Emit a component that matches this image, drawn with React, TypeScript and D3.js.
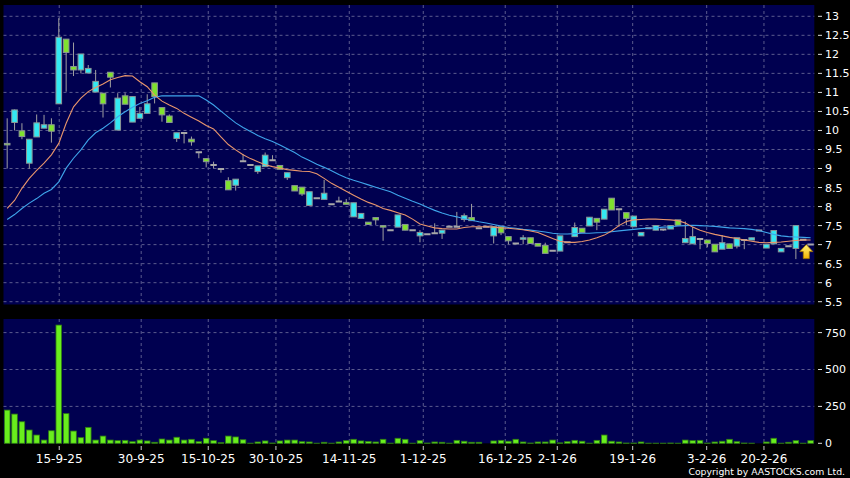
import * as d3 from "d3";

// daily candles, oldest first
const openP = [
  9.66, 10.21, 9.99, 9.14, 9.83, 10.06, 10.15, 10.7, 12.4, 11.68,
  11.59, 11.51, 11.01, 10.98, 11.53, 10.01, 10.91, 10.22, 10.32, 10.45,
  11.25, 10.6, 10.38, 9.79, 9.93, 9.77, 9.43, 9.26, 9.09, 8.99,
  8.68, 8.56, 9.19, 9.09, 8.92, 9.05, 9.22, 9.08, 8.76, 8.55,
  8.51, 8.03, 8.22, 8.19, 8.06, 8.13, 8.11, 7.73, 7.69, 7.59,
  7.71, 7.5, 7.38, 7.46, 7.53, 7.38, 7.23, 7.27, 7.3, 7.3,
  7.47, 7.47, 7.66, 7.71, 7.43, 7.47, 7.23, 7.47, 7.21, 7.03,
  7.14, 7.18, 7.03, 6.98, 6.84, 6.83, 7.06, 7.21, 7.43, 7.49,
  7.69, 7.67, 8.22, 7.93, 7.84, 7.47, 7.23, 7.43, 7.38, 7.4,
  7.41, 7.65, 7.05, 7.02, 7.15, 7.12, 7.01, 6.88, 7.02, 6.96,
  7.12, 7.12, 7.37, 6.91, 7.02, 6.81, 6.96, 6.9, 7.13, 7.0,
];
const highP = [
  10.32, 10.55, 10.19, 9.77, 10.42, 10.41, 10.32, 12.95, 12.4, 12.31,
  12.01, 11.72, 11.59, 10.98, 11.53, 10.98, 10.98, 10.89, 10.62, 10.95,
  11.25, 10.6, 10.42, 9.94, 9.93, 9.84, 9.43, 9.26, 9.18, 8.99,
  8.77, 8.72, 9.38, 9.09, 9.07, 9.42, 9.35, 9.08, 8.89, 8.55,
  8.51, 8.39, 8.22, 8.7, 8.06, 8.26, 8.2, 8.1, 7.82, 7.59,
  7.71, 7.5, 7.38, 7.78, 7.53, 7.38, 7.38, 7.27, 7.56, 7.38,
  7.47, 7.86, 7.82, 8.07, 7.43, 7.47, 7.47, 7.47, 7.21, 7.03,
  7.25, 7.18, 7.03, 7.05, 6.84, 7.23, 7.06, 7.58, 7.43, 7.72,
  7.69, 7.93, 8.22, 7.93, 7.84, 7.75, 7.32, 7.43, 7.5, 7.4,
  7.5, 7.65, 7.61, 7.47, 7.15, 7.12, 7.01, 7.25, 7.02, 7.18,
  7.12, 7.18, 7.37, 7.01, 7.37, 6.9, 6.96, 7.5, 7.13, 7.0,
];
const lowP = [
  9.0, 10.0, 9.77, 9.0, 9.83, 10.06, 9.68, 10.7, 11.02, 11.43,
  11.5, 11.51, 11.01, 10.34, 11.13, 10.01, 10.69, 10.22, 10.32, 10.45,
  10.71, 10.23, 10.21, 9.7, 9.66, 9.6, 9.27, 9.03, 9.0, 8.89,
  8.44, 8.42, 9.19, 9.09, 8.86, 9.05, 9.22, 8.98, 8.7, 8.41,
  8.28, 8.03, 8.22, 8.19, 8.06, 8.13, 8.06, 7.73, 7.69, 7.53,
  7.52, 7.1, 7.38, 7.46, 7.38, 7.38, 7.06, 7.27, 7.3, 7.15,
  7.47, 7.47, 7.6, 7.63, 7.43, 7.47, 7.03, 7.25, 7.01, 7.03,
  7.01, 7.03, 6.96, 6.77, 6.84, 6.83, 7.06, 7.21, 7.32, 7.49,
  7.38, 7.67, 7.91, 7.47, 7.51, 7.47, 7.23, 7.43, 7.38, 7.36,
  7.41, 7.51, 7.05, 7.02, 6.88, 6.93, 6.81, 6.88, 6.9, 6.9,
  6.88, 7.12, 7.37, 6.91, 7.02, 6.81, 6.96, 6.62, 7.13, 7.0,
];
const closeP = [
  9.62, 10.54, 9.84, 9.77, 10.2, 10.15, 9.98, 12.45, 12.05, 11.59,
  12.01, 11.63, 11.29, 10.7, 11.4, 10.85, 10.69, 10.89, 10.45, 10.7,
  10.89, 10.41, 10.21, 9.94, 9.93, 9.7, 9.43, 9.18, 9.09, 8.99,
  8.44, 8.72, 9.19, 9.09, 9.07, 9.35, 9.22, 8.98, 8.89, 8.41,
  8.33, 8.39, 8.22, 8.35, 8.06, 8.13, 8.06, 8.1, 7.82, 7.53,
  7.65, 7.46, 7.38, 7.78, 7.38, 7.38, 7.32, 7.27, 7.3, 7.38,
  7.47, 7.47, 7.76, 7.63, 7.43, 7.47, 7.47, 7.31, 7.1, 7.03,
  7.18, 7.03, 6.96, 6.77, 6.84, 7.23, 7.06, 7.45, 7.32, 7.72,
  7.59, 7.93, 7.91, 7.93, 7.69, 7.75, 7.32, 7.43, 7.5, 7.4,
  7.5, 7.51, 7.16, 7.21, 7.15, 7.03, 6.81, 7.05, 6.9, 7.18,
  7.12, 7.18, 7.37, 7.01, 7.37, 6.9, 6.96, 7.5, 7.13, 7.0,
];
const volume = [
  225, 198, 146, 90, 56, 22, 85, 801, 201, 83,
  38, 108, 22, 49, 22, 18, 20, 11, 22, 16,
  7, 29, 22, 41, 22, 27, 11, 34, 18, 4,
  49, 43, 24, 1, 9, 16, 2, 16, 22, 22,
  11, 9, 1, 7, 1, 9, 18, 27, 16, 13,
  9, 27, 1, 34, 27, 1, 18, 2, 9, 7,
  1, 20, 14, 7, 7, 0, 16, 20, 14, 27,
  9, 2, 9, 9, 22, 3, 11, 20, 14, 1,
  20, 56, 14, 9, 2, 2, 9, 1, 1, 1,
  2, 1, 22, 18, 20, 2, 9, 14, 27, 11,
  2, 1, 0, 9, 34, 1, 7, 18, 1, 18,
];
const ma10 = [
  7.95, 8.16, 8.48, 8.74, 8.95, 9.14, 9.36, 9.66, 10.19, 10.62,
  10.85, 11.02, 11.13, 11.22, 11.33, 11.39, 11.44, 11.43, 11.28, 11.15,
  10.93, 10.77, 10.67, 10.58, 10.45, 10.35, 10.25, 10.13, 10.04, 9.83,
  9.63, 9.49, 9.36, 9.26, 9.18, 9.1, 9.05, 9.01, 8.97, 8.95,
  8.93, 8.92, 8.86, 8.74, 8.61, 8.51, 8.4, 8.3, 8.2, 8.11,
  8.04, 7.95, 7.9, 7.84, 7.78, 7.67, 7.54, 7.49, 7.44, 7.42,
  7.41, 7.41, 7.45, 7.47, 7.47, 7.47, 7.46, 7.44, 7.43, 7.41,
  7.39, 7.36, 7.32, 7.24, 7.16, 7.09, 7.06, 7.06, 7.08, 7.12,
  7.18, 7.25, 7.36, 7.5, 7.61, 7.65, 7.66, 7.67, 7.67, 7.66,
  7.65, 7.63, 7.57, 7.46, 7.38, 7.32, 7.27, 7.23, 7.19, 7.16,
  7.12, 7.09, 7.06, 7.05, 7.06, 7.07, 7.09, 7.11, 7.12, 7.12,
];
const ma20 = [
  7.66, 7.79, 7.95, 8.09, 8.21, 8.35, 8.45, 8.65, 9.01, 9.27,
  9.49, 9.75, 9.94, 10.06, 10.2, 10.36, 10.49, 10.61, 10.71, 10.78,
  10.87, 10.91, 10.91, 10.91, 10.91, 10.91, 10.91, 10.8, 10.67, 10.51,
  10.35, 10.2, 10.08, 9.97, 9.87, 9.78, 9.71, 9.62, 9.52, 9.42,
  9.3, 9.21, 9.11, 9.03, 8.94, 8.84, 8.76, 8.69, 8.63, 8.57,
  8.51, 8.45, 8.39, 8.3, 8.22, 8.14, 8.07, 7.98, 7.9, 7.83,
  7.77, 7.73, 7.68, 7.64, 7.6, 7.57, 7.53, 7.49, 7.45, 7.43,
  7.4, 7.38, 7.36, 7.33, 7.3, 7.28, 7.28, 7.29, 7.3, 7.3,
  7.31, 7.32, 7.34, 7.36, 7.38, 7.4, 7.42, 7.43, 7.44, 7.46,
  7.47, 7.49, 7.5, 7.51, 7.5, 7.49, 7.48, 7.46, 7.44, 7.43,
  7.42, 7.4, 7.37, 7.32, 7.27, 7.23, 7.21, 7.2, 7.19, 7.18,
];

const priceTicks = [13, 12.5, 12, 11.5, 11, 10.5, 10, 9.5, 9, 8.5, 8, 7.5, 7, 6.5, 6, 5.5];
const volTicks = [750, 500, 250, 0];
const dateLabels = ["15-9-25", "30-9-25", "15-10-25", "30-10-25", "14-11-25", "1-12-25", "16-12-25", "2-1-26", "19-1-26", "3-2-26", "20-2-26"];
// where each date falls, in candle index units
const datePos = [7.06, 18.18, 27.28, 36.46, 46.41, 56.45, 67.57, 74.63, 84.86, 94.9, 102.67];

const W = 850;
const H = 478;
const LEFT = 3.5;
const RIGHT = 814.3;
const FONT = "'DejaVu Sans', Verdana, sans-serif";

const CYAN = "#33e8f2";
const GREEN = "#7fe22e";
const GRID = "#5b5b8e";

export default function App() {
  const n = closeP.length;
  const x = d3.scaleLinear().domain([-0.5, n - 0.5]).range([LEFT, RIGHT]);
  const y = d3.scaleLinear().domain([5.5, 13]).range([301.7, 16.3]);
  const yv = d3.scaleLinear().domain([0, 750]).range([443.3, 332.6]);

  const maLine = d3
    .line<number>()
    .x((_, i) => x(i))
    .y((d) => y(d));

  const candles = d3.range(n).map((i) => {
    const o = openP[i];
    const c = closeP[i];
    const cx = x(i);
    const top = y(Math.max(o, c));
    const bot = y(Math.min(o, c));
    const flat = Math.abs(o - c) < 0.005;
    const fill = flat ? "#a8a8a8" : c > o ? CYAN : GREEN;
    return (
      <g key={i}>
        <line x1={cx} x2={cx} y1={y(highP[i])} y2={y(lowP[i])} stroke="#a0a0a0" strokeWidth={1} />
        {flat ? (
          <line x1={cx - 3.2} x2={cx + 3.2} y1={top} y2={top} stroke="#a8a8a8" strokeWidth={2} />
        ) : (
          <rect x={cx - 2.8} y={top} width={5.6} height={Math.max(bot - top, 1)} fill={fill} stroke="#8c9696" strokeWidth={1} />
        )}
      </g>
    );
  });

  const bars = volume.map((v, i) =>
    v > 0 ? (
      <rect key={i} x={x(i) - 2.8} y={yv(v)} width={5.6} height={yv(0) - yv(v)} fill="#69ee1d" stroke="#2f7d12" strokeWidth={0.8} />
    ) : null
  );

  const last = n - 1;
  const ax = Math.min(x(last), RIGHT - 8);
  const ay = y(closeP[last]);
  const arrow = [
    [ax, ay],
    [ax + 6.5, ay + 7],
    [ax + 3, ay + 7],
    [ax + 3, ay + 14],
    [ax - 3, ay + 14],
    [ax - 3, ay + 7],
    [ax - 6.5, ay + 7],
  ]
    .map((p) => p.join(","))
    .join(" ");

  return (
    <svg width={W} height={H} style={{ position: "absolute", left: 0, top: 0, background: "#000" }} fontFamily={FONT}>
      <defs>
        <clipPath id="mainClip">
          <rect x={LEFT} y={5} width={RIGHT - LEFT} height={299.5} />
        </clipPath>
        <linearGradient id="arrowFill" x1="0" x2="0" y1="0" y2="1">
          <stop offset="0" stopColor="#fff37a" />
          <stop offset="1" stopColor="#f2b400" />
        </linearGradient>
      </defs>
      <rect width={W} height={H} fill="#000" />

      {/* price panel */}
      <rect x={LEFT} y={5} width={RIGHT - LEFT} height={299.5} fill="#000050" />
      {priceTicks.map((t) => (
        <line key={t} x1={LEFT} x2={RIGHT} y1={y(t)} y2={y(t)} stroke={GRID} strokeDasharray="3,3" />
      ))}
      {datePos.map((p, i) => (
        <line key={i} x1={x(p)} x2={x(p)} y1={5} y2={304.5} stroke={GRID} strokeDasharray="3,3" />
      ))}
      <g clipPath="url(#mainClip)">
        {candles}
        <path d={maLine(ma20) || ""} fill="none" stroke="#3ea4ea" strokeWidth={1.1} />
        <path d={maLine(ma10) || ""} fill="none" stroke="#e8956c" strokeWidth={1.1} />
        <polygon points={arrow} fill="url(#arrowFill)" stroke="#a87a00" strokeWidth={0.8} />
      </g>
      {priceTicks.map((t) => (
        <g key={t}>
          <line x1={818} x2={822} y1={y(t)} y2={y(t)} stroke="#ddd" />
          <text x={825} y={y(t)} dy="0.36em" fill="#fff" fontSize={11}>
            {t}
          </text>
        </g>
      ))}

      {/* volume panel */}
      <rect x={LEFT} y={319} width={RIGHT - LEFT} height={124.3} fill="#000050" />
      {volTicks.slice(0, 3).map((t) => (
        <line key={t} x1={LEFT} x2={RIGHT} y1={yv(t)} y2={yv(t)} stroke={GRID} strokeDasharray="3,3" />
      ))}
      {datePos.map((p, i) => (
        <line key={i} x1={x(p)} x2={x(p)} y1={319} y2={443.3} stroke={GRID} strokeDasharray="3,3" />
      ))}
      {bars}
      {volTicks.map((t) => (
        <g key={t}>
          <line x1={818} x2={822} y1={yv(t)} y2={yv(t)} stroke="#ddd" />
          <text x={825} y={yv(t)} dy="0.36em" fill="#fff" fontSize={11}>
            {t}
          </text>
        </g>
      ))}

      {/* date axis */}
      {dateLabels.map((d, i) => (
        <g key={d}>
          <line x1={x(datePos[i])} x2={x(datePos[i])} y1={446} y2={450} stroke="#ccc" />
          <text x={x(datePos[i])} y={462.5} textAnchor="middle" fill="#fff" fontSize={12}>
            {d}
          </text>
        </g>
      ))}
      <text x={845} y={475} textAnchor="end" fill="#fff" fontSize={9.3}>
        Copyright by AASTOCKS.com Ltd.
      </text>
    </svg>
  );
}
